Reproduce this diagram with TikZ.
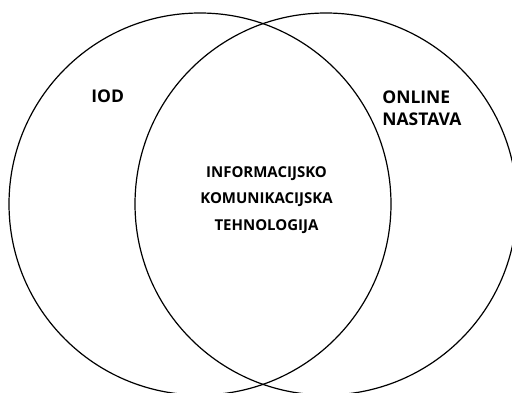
\documentclass[tikz,border=0pt]{standalone}
\usepackage{fontspec}
\setmainfont{Open Sans}
\begin{document}
\begin{tikzpicture}[x=1pt,y=-1pt,
  setcircle/.style={draw=black,line width=1.2pt,circle,inner sep=0pt,minimum size=382pt},
  lbl/.style={inner sep=0pt,font=\bfseries\fontsize{17.5}{22.5}\selectfont},
  midlbl/.style={inner sep=0pt,align=center,font=\bfseries\fontsize{15}{26.5}\selectfont}]
\useasboundingbox (0,0) rectangle (512,393);
\node[setcircle] (iod) at (200,204) {};
\node[setcircle] (online) at (326,204) {};
\node[lbl,anchor=base] (iodtext) at (107.7,102.5) {IOD};
\node[lbl,anchor=base west,align=left] (onlinetext) at (382.2,126) {ONLINE\\NASTAVA};
\node[midlbl,anchor=base] (ikt) at (266.5,230) {INFORMACIJSKO\\KOMUNIKACIJSKA\\TEHNOLOGIJA};
\end{tikzpicture}
\end{document}
